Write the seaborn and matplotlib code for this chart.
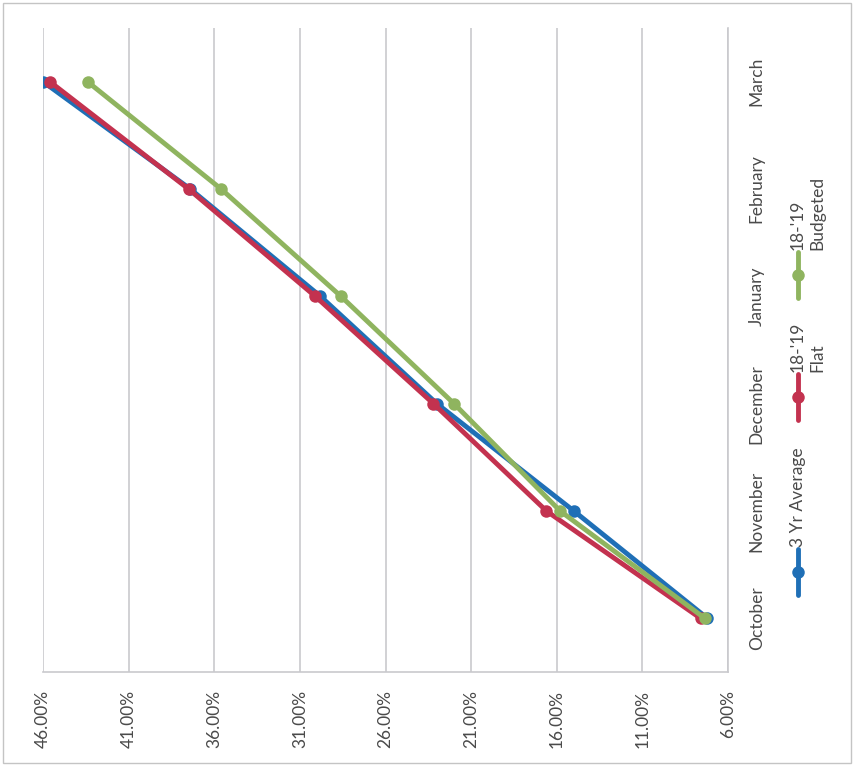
import matplotlib
matplotlib.use('Agg')
import matplotlib.pyplot as plt
import matplotlib.patches as mpatches
from matplotlib.lines import Line2D
import pandas as pd
import seaborn as sns

# chart data (the scan is rotated 90 degrees counter-clockwise)
months = ['October', 'November', 'December', 'January', 'February', 'March']
avg_3yr = [7.2, 15.0, 23.0, 29.8, 37.4, 46.0]
flat_1819 = [7.6, 16.6, 23.2, 30.1, 37.5, 45.6]
budgeted_1819 = [7.35, 15.8, 22.0, 28.6, 35.6, 43.4]
series_names = ['3 Yr Average', "18-'19\nFlat", "18-'19\nBudgeted"]
colors = ['#1f6fb6', '#c3324f', '#8fb45f']
pct_ticks = [6, 11, 16, 21, 26, 31, 36, 41, 46]

W, H = 858, 765
def px(x, y):
    return x / W, 1 - y / H

rows = []
for name, vals in zip(series_names, [avg_3yr, flat_1819, budgeted_1819]):
    for i, v in enumerate(vals):
        rows.append({'series': name, 'pos': i, 'value': v})
df = pd.DataFrame(rows)

sns.set_style('white')
plt.rcParams['font.family'] = ['Lato', 'DejaVu Sans']
txt_col = '#4a4a4a'
grid_col = '#c9c9cd'

fig = plt.figure(figsize=(W / 100, H / 100), dpi=100)
l, b = px(43, 672)
r, t = px(728, 28)
ax = fig.add_axes([l, b, r - l, t - b])

sns.lineplot(data=df, x='value', y='pos', hue='series', hue_order=series_names,
             palette=colors, marker='o', markersize=9, markeredgewidth=0,
             linewidth=3.5, sort=False, orient='y', legend=False, ax=ax)

ax.set_xlim(46, 6)
ax.set_ylim(-0.5, 5.5)
ax.set_xticks(pct_ticks)
ax.set_xticklabels(['{:.2f}%'.format(p) for p in pct_ticks], rotation=90,
                   color=txt_col, fontsize=12.5)
ax.set_yticks(range(len(months)))
ax.yaxis.tick_right()
ax.set_yticklabels(months, rotation=90, color=txt_col, fontsize=12.5, va='center')
ax.tick_params(axis='x', length=0, pad=13)
ax.tick_params(axis='y', length=0, pad=15)
ax.set_xlabel('')
ax.set_ylabel('')
ax.xaxis.grid(True, color=grid_col, linewidth=1.2)
ax.yaxis.grid(False)
for s in ['left', 'top']:
    ax.spines[s].set_visible(False)
for s in ['right', 'bottom']:
    ax.spines[s].set_color(grid_col)
    ax.spines[s].set_linewidth(1.2)

# legend, drawn rotated like the rest of the scan
leg_x = 798
for name, col, yc in zip(series_names, colors, [572, 397, 275]):
    x0, y0 = px(leg_x, yc + 23)
    x1, y1 = px(leg_x, yc)
    x2, y2 = px(leg_x, yc - 23)
    fig.add_artist(Line2D([x0, x1, x2], [y0, y1, y2], color=col, linewidth=3.5,
                          marker='o', markersize=9, markeredgewidth=0, markevery=[1]))
    tx, ty = px(790, yc - 25)
    fig.text(tx, ty, name, rotation=90, ha='left', va='bottom', multialignment='left',
             color=txt_col, fontsize=12.5, linespacing=1.25)

# scanned page frame
fx, fy = px(3, 763)
fig.patches.append(mpatches.Rectangle((fx, fy), (851 - 3) / W, (763 - 3) / H,
                                      transform=fig.transFigure, fill=False,
                                      edgecolor='#c4c4c4', linewidth=1))

fig.savefig('out.png', dpi=100)
